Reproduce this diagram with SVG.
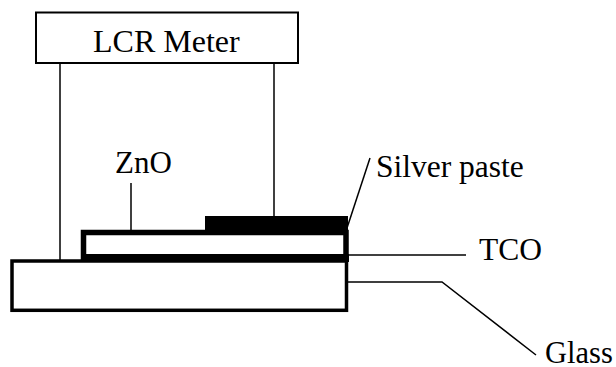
<svg xmlns="http://www.w3.org/2000/svg" width="616" height="367" viewBox="0 0 616 367">
<style>
text{font-family:"Liberation Serif","Times New Roman",serif;font-size:31.5px;fill:#000}
.l{fill:none;stroke:#000;stroke-width:1.5}
</style>
<rect width="616" height="367" fill="#fff"/>
<g id="connectors">
<path class="l" d="M60 63V260"/>
<path class="l" d="M274 63V238"/>
<path class="l" d="M131 183V230"/>
<path class="l" d="M347 228L370 158"/>
<path class="l" d="M349 255H466"/>
<path class="l" d="M347 282H442L536 355"/>
</g>
<g id="glass"><rect x="12" y="261" width="334.500" height="49.300" fill="#fff" stroke="#000" stroke-width="3.500"/><text x="545" y="363" style="font-size:30.500px">Glass</text></g>
<g id="tco"><rect x="83.500" y="232.500" width="262.500" height="25.500" fill="#fff" stroke="#000" stroke-width="5.500"/><rect x="81" y="254" width="268" height="8"/><text x="479" y="260">TCO</text></g>
<g id="silver"><rect x="205" y="216" width="143" height="19"/><text x="376" y="177">Silver paste</text></g>
<g id="zno"><text x="115" y="173" style="font-size:31px">ZnO</text></g>
<g id="meter"><rect x="36" y="12.500" width="262" height="50.500" fill="#fff" stroke="#000" stroke-width="2"/><text x="93" y="52" style="font-size:32px">LCR Meter</text></g>
</svg>
